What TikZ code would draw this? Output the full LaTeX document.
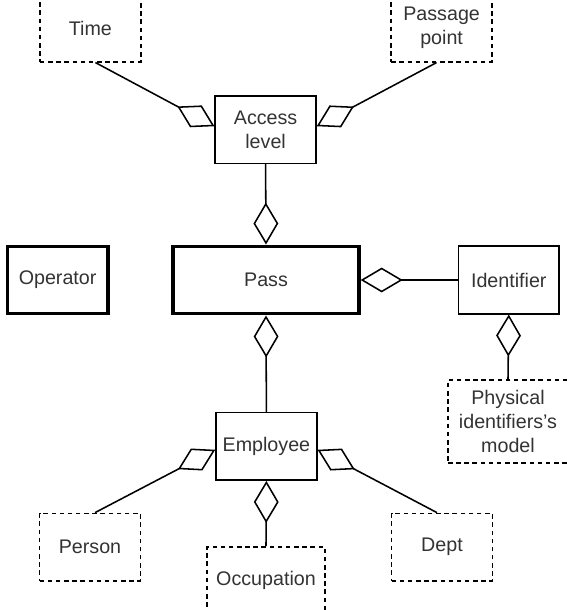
\documentclass[tikz,border=0pt]{standalone}
\usepackage{fontspec}
\setmainfont{Liberation Sans}
\usetikzlibrary{arrows.meta}
\definecolor{txtgray}{RGB}{51,51,51}
\tikzset{
  font={\fontsize{14pt}{17pt}\selectfont},
  box/.style={draw=black, line width=1.1pt, text=txtgray, align=center,
    minimum width=2.52cm, minimum height=1.69cm, inner sep=0pt},
  extbox/.style={box, dash pattern=on 3.2pt off 2.6pt},
  mainbox/.style={box, line width=2.4pt},
  agg/.style={draw=black, line width=1.1pt,
    -{Diamond[open, length=1.05cm, width=0.62cm]}}}

\begin{document}
\begin{tikzpicture}[scale=0.2]
\useasboundingbox (0,0) rectangle (70.75,-76.25);
\node [extbox] (time) at (11.3,-3.5) {Time};
\node [extbox] (passage) at (55.2,-3.5) {Passage\\point};
\node [box] (access) at (33.2,-16.2) {Access\\level};
\node [mainbox] (operator) at (7.2,-35) {Operator};
\node [mainbox, minimum width=4.65cm] (pass) at (33.25,-35) {Pass};
\node [box] (ident) at (63.6,-35) {Identifier};
\node [extbox, minimum width=3cm, minimum height=2.08cm] (phys) at (63.5,-52.7) {Physical\\identifiers's\\model};
\node [box] (employee) at (33.3,-55.8) {Employee};
\node [extbox] (person) at (11.25,-68.4) {Person};
\node [extbox, minimum width=2.95cm] (occupation) at (33.25,-72.6) {Occupation};
\node [extbox] (dept) at (55.25,-68.4) {Dept};
\draw [agg] ([xshift=0.63cm]time.south) -- ([yshift=0.42cm]access.west);
\draw [agg] ([xshift=-0.63cm]passage.south) -- ([yshift=0.42cm]access.east);
\draw [agg] (access.south) -- (pass.north);
\draw [agg] (ident.west) -- (pass.east);
\draw [agg] (phys.north) -- (ident.south);
\draw [agg] (employee.north) -- (pass.south);
\draw [agg] ([xshift=0.63cm]person.north) -- ([yshift=-0.42cm]employee.west);
\draw [agg] (occupation.north) -- (employee.south);
\draw [agg] ([xshift=-0.63cm]dept.north) -- ([yshift=-0.42cm]employee.east);
\end{tikzpicture}
\end{document}
